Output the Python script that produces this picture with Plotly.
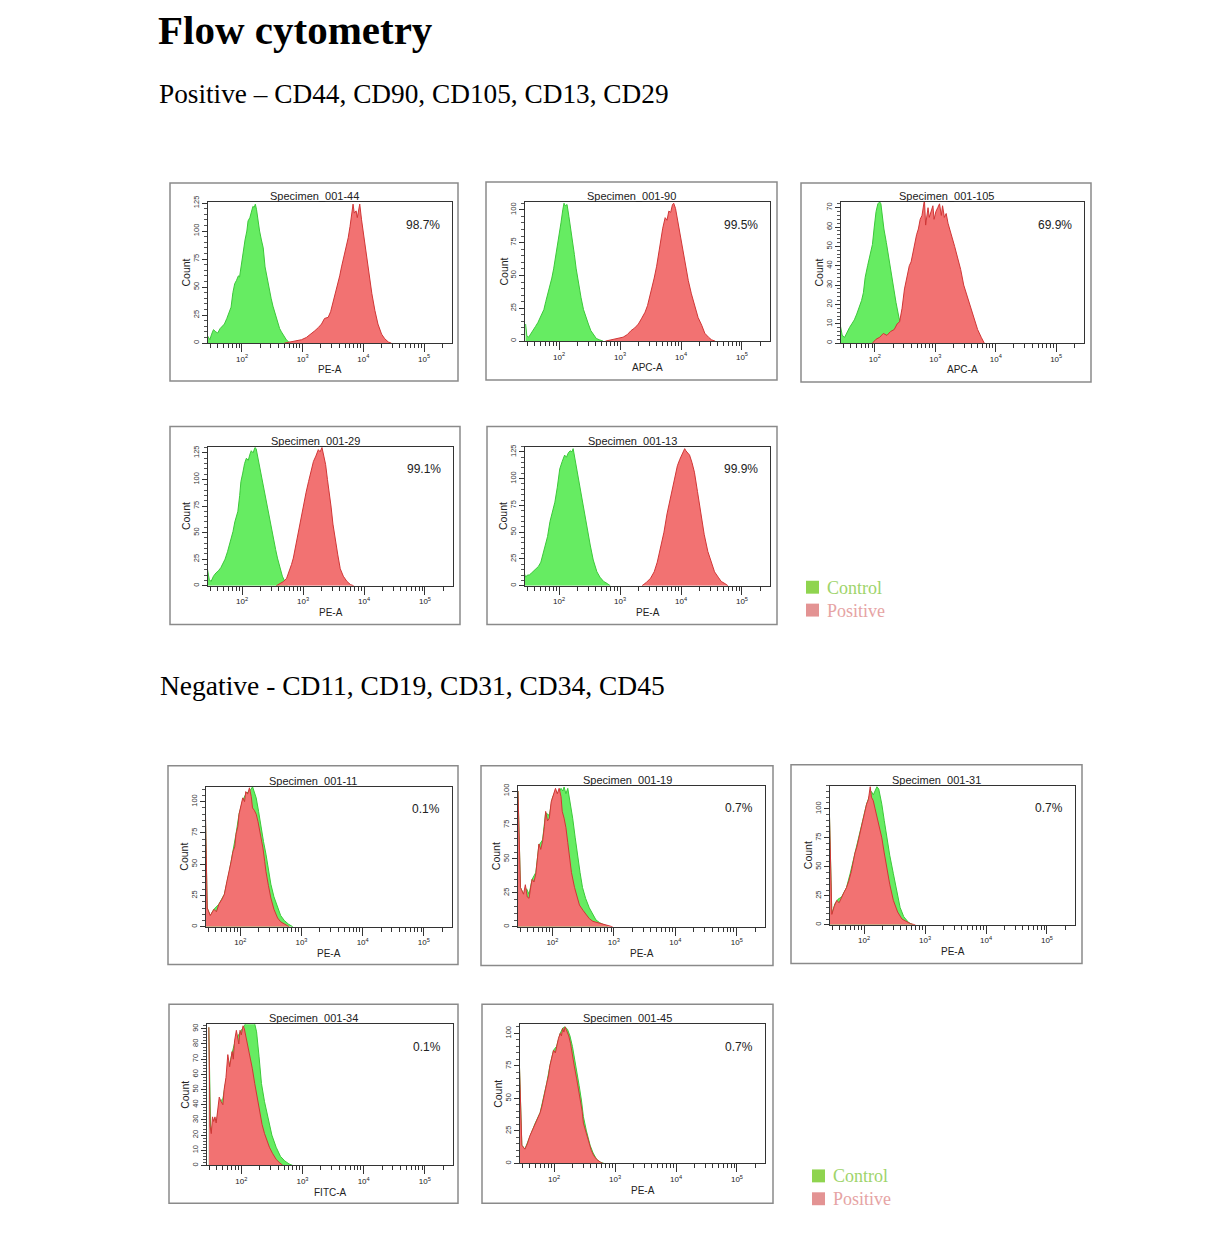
import math
import plotly.graph_objects as go

W, H = 1211, 1246

# ---------------- data (log10 fluorescence intensity, event count) ----------------
CD44_CTRL_LOGX = [1.44,1.47,1.50,1.53,1.57,1.60,1.64,1.68,1.71,1.75,1.79,1.82,1.85,1.88,1.91,1.94,1.96,1.99,2.02,2.05,2.08,2.10,2.13,2.16,2.18,2.20,2.22,2.24,2.26,2.29,2.32,2.35,2.38,2.41,2.44,2.48,2.51,2.54,2.58,2.62,2.65,2.69,2.73,2.77,2.81]
CD44_CTRL_COUNT = [6,3,8,12,10,9,13,15,17,22,28,32,45,53,56,60,59,70,84,92,100,109,112,118,122,121,124,119,110,100,92,85,68,59,52,40,33,27,19,13,10,6,3,1,0]
CD44_POS_LOGX = [2.70,2.80,2.90,2.98,3.06,3.14,3.20,3.26,3.31,3.36,3.42,3.46,3.50,3.53,3.57,3.61,3.64,3.68,3.72,3.75,3.78,3.81,3.83,3.85,3.88,3.90,3.92,3.94,3.97,4.00,4.03,4.06,4.10,4.14,4.19,4.24,4.30,4.35,4.41,4.46]
CD44_POS_COUNT = [0,1,2,3,5,8,11,14,17,22,23,28,36,44,52,60,68,77,86,94,104,114,124,116,118,112,120,124,110,98,88,74,59,44,29,17,8,4,1,0]

CD90_CTRL_LOGX = [1.45,1.47,1.50,1.53,1.57,1.61,1.65,1.69,1.72,1.75,1.78,1.81,1.84,1.88,1.91,1.94,1.97,2.00,2.03,2.06,2.08,2.10,2.13,2.16,2.19,2.22,2.25,2.28,2.32,2.36,2.40,2.44,2.48,2.52,2.56,2.61,2.66,2.72]
CD90_CTRL_COUNT = [13,4,3,5,8,11,14,18,22,24,30,35,40,48,55,63,72,82,90,100,105,103,104,95,86,74,66,55,43,33,24,18,13,8,5,2,1,0]
CD90_POS_LOGX = [2.76,2.85,2.95,3.05,3.12,3.18,3.24,3.30,3.35,3.41,3.45,3.49,3.52,3.56,3.60,3.63,3.67,3.70,3.74,3.77,3.80,3.83,3.86,3.88,3.91,3.94,3.97,4.00,4.04,4.08,4.12,4.17,4.22,4.28,4.34,4.39,4.45,4.50,4.56]
CD90_POS_COUNT = [0,1,2,3,5,8,10,13,17,22,27,34,41,48,57,66,75,86,94,92,99,98,104,105,101,93,86,78,68,58,46,36,27,18,12,6,3,1,0]

CD105_CTRL_LOGX = [1.43,1.46,1.50,1.54,1.58,1.62,1.66,1.70,1.74,1.78,1.81,1.84,1.88,1.92,1.96,1.99,2.02,2.05,2.08,2.10,2.12,2.15,2.19,2.23,2.27,2.31,2.35,2.40,2.45,2.50,2.55,2.60]
CD105_CTRL_COUNT = [9,4,3,6,8,10,12,15,18,22,26,34,40,45,51,60,68,72,73,72,66,59,52,44,36,28,21,13,8,4,2,0]
CD105_POS_LOGX = [1.96,2.02,2.08,2.14,2.20,2.26,2.32,2.37,2.41,2.45,2.49,2.53,2.57,2.60,2.63,2.66,2.69,2.72,2.75,2.78,2.80,2.82,2.84,2.86,2.88,2.90,2.93,2.96,2.98,3.01,3.04,3.07,3.10,3.12,3.15,3.18,3.21,3.24,3.28,3.32,3.37,3.42,3.47,3.53,3.58,3.64,3.70,3.76,3.81]
CD105_POS_COUNT = [0,2,3,5,4,6,7,10,11,18,28,34,40,42,47,50,56,59,64,66,70,74,61,66,70,65,68,71,64,68,70,72,66,71,65,67,62,59,54,50,44,38,30,24,18,12,7,3,0]

CD29_CTRL_LOGX = [1.43,1.46,1.49,1.53,1.57,1.61,1.65,1.68,1.72,1.76,1.80,1.83,1.85,1.88,1.90,1.93,1.96,1.98,2.01,2.04,2.07,2.10,2.13,2.15,2.18,2.21,2.23,2.26,2.29,2.31,2.34,2.37,2.40,2.44,2.48,2.51,2.55,2.58,2.62,2.66,2.70,2.74]
CD29_CTRL_COUNT = [16,6,4,9,12,14,17,20,25,32,40,48,51,60,64,70,85,98,106,115,120,118,124,127,125,130,129,120,110,105,95,86,76,64,54,45,34,26,16,9,4,0]
CD29_POS_LOGX = [2.56,2.62,2.68,2.73,2.77,2.81,2.84,2.88,2.92,2.96,3.01,3.05,3.09,3.13,3.17,3.21,3.25,3.28,3.31,3.34,3.37,3.40,3.43,3.46,3.49,3.53,3.57,3.61,3.66,3.72,3.78,3.83]
CD29_POS_COUNT = [0,2,4,7,13,20,26,38,51,63,76,88,98,108,117,122,128,126,130,122,114,100,88,74,58,42,29,16,9,4,1,0]

CD13_CTRL_LOGX = [1.42,1.45,1.48,1.51,1.55,1.59,1.62,1.66,1.70,1.73,1.77,1.81,1.85,1.89,1.93,1.97,2.01,2.05,2.09,2.12,2.15,2.18,2.21,2.23,2.26,2.29,2.31,2.35,2.40,2.45,2.51,2.56,2.62,2.67,2.73,2.79,2.84]
CD13_CTRL_COUNT = [13,8,10,10,12,14,16,18,22,29,36,46,60,68,78,92,109,116,122,120,124,126,125,128,118,110,103,90,72,55,38,24,13,8,4,2,0]
CD13_POS_LOGX = [3.36,3.43,3.50,3.56,3.61,3.66,3.72,3.77,3.83,3.88,3.94,3.98,4.03,4.06,4.08,4.11,4.14,4.18,4.22,4.27,4.33,4.38,4.44,4.50,4.55,4.61,4.66,4.72,4.77]
CD13_POS_COUNT = [0,3,7,13,22,34,50,67,84,98,112,118,125,128,126,124,122,115,106,88,66,48,32,21,13,8,4,2,0]

CD11_CTRL_LOGX = [1.43,1.46,1.51,1.57,1.65,1.74,1.82,1.88,1.93,1.98,2.04,2.09,2.14,2.18,2.20,2.23,2.26,2.30,2.34,2.38,2.42,2.46,2.50,2.55,2.61,2.66,2.72,2.79,2.86]
CD11_CTRL_COUNT = [90,15,9,14,18,26,44,60,74,90,101,106,108,110,112,108,103,92,79,68,58,46,34,24,15,9,5,2,0]
CD11_POS_LOGX = [1.43,1.46,1.51,1.57,1.61,1.65,1.70,1.74,1.78,1.82,1.85,1.88,1.91,1.93,1.96,1.98,2.01,2.04,2.07,2.09,2.12,2.15,2.18,2.20,2.23,2.26,2.29,2.31,2.34,2.37,2.40,2.42,2.46,2.50,2.55,2.61,2.66,2.72,2.80]
CD11_POS_COUNT = [95,15,9,14,12,18,22,26,36,44,52,60,64,74,80,90,96,103,100,108,106,111,104,95,93,90,84,79,70,63,52,44,33,23,14,7,4,2,0]

CD19_CTRL_LOGX = [1.44,1.48,1.53,1.58,1.62,1.67,1.73,1.78,1.84,1.89,1.95,2.00,2.05,2.10,2.14,2.17,2.19,2.22,2.25,2.29,2.33,2.37,2.41,2.45,2.49,2.54,2.60,2.66,2.71,2.77,2.82,2.90]
CD19_CTRL_COUNT = [100,29,24,28,24,35,40,60,64,84,82,95,100,98,102,100,103,98,102,92,80,66,51,40,29,21,14,9,5,3,2,0]
CD19_POS_LOGX = [1.44,1.48,1.53,1.56,1.59,1.62,1.65,1.67,1.70,1.73,1.76,1.78,1.81,1.84,1.87,1.89,1.92,1.95,1.98,2.00,2.03,2.05,2.08,2.11,2.14,2.16,2.19,2.22,2.25,2.27,2.31,2.36,2.40,2.44,2.50,2.55,2.60,2.66,2.74,2.82,2.90,2.98]
CD19_POS_COUNT = [100,29,24,31,22,21,30,35,33,39,52,61,57,63,74,85,78,80,92,95,99,102,98,102,96,85,80,73,62,53,40,29,22,16,12,9,6,4,3,2,1,0]

CD31_CTRL_LOGX = [1.43,1.47,1.52,1.57,1.63,1.71,1.77,1.82,1.88,1.93,1.98,2.04,2.08,2.12,2.15,2.18,2.21,2.24,2.27,2.29,2.33,2.37,2.42,2.48,2.53,2.59,2.65,2.73,2.80]
CD31_CTRL_COUNT = [98,9,18,22,24,32,44,55,67,80,90,104,110,115,112,116,119,117,110,104,90,75,60,44,30,15,7,2,0]
CD31_POS_LOGX = [1.43,1.47,1.51,1.55,1.59,1.63,1.67,1.71,1.75,1.79,1.82,1.85,1.88,1.92,1.96,2.00,2.04,2.07,2.10,2.12,2.15,2.18,2.21,2.25,2.29,2.33,2.37,2.42,2.48,2.55,2.62,2.69,2.76,2.84]
CD31_POS_COUNT = [98,9,16,21,19,24,28,32,38,46,55,62,67,76,87,96,104,108,119,110,107,100,93,85,75,62,50,35,21,11,5,3,1,0]

CD34_CTRL_LOGX = [1.47,1.50,1.55,1.60,1.65,1.70,1.75,1.80,1.85,1.90,1.95,2.00,2.05,2.09,2.13,2.17,2.21,2.25,2.29,2.33,2.38,2.44,2.50,2.57,2.64,2.71,2.78,2.84]
CD34_CTRL_COUNT = [91,21,30,30,42,44,56,66,74,82,86,89,92,95,96,96,95,88,72,54,42,30,20,12,6,3,1,0]
CD34_POS_LOGX = [1.47,1.49,1.51,1.53,1.55,1.57,1.59,1.62,1.64,1.67,1.70,1.72,1.75,1.78,1.81,1.83,1.85,1.87,1.89,1.92,1.94,1.96,1.98,2.00,2.03,2.05,2.08,2.11,2.14,2.18,2.22,2.26,2.30,2.34,2.38,2.42,2.46,2.51,2.57,2.62,2.68]
CD34_POS_COUNT = [91,26,21,32,29,32,28,38,45,42,40,50,58,73,65,70,75,70,82,89,84,80,89,86,92,90,84,78,73,64,54,44,34,27,21,16,12,8,4,2,0]

CD45_CTRL_LOGX = [1.43,1.47,1.52,1.60,1.69,1.77,1.82,1.88,1.93,1.99,2.04,2.10,2.14,2.18,2.22,2.26,2.30,2.34,2.37,2.41,2.45,2.48,2.53,2.59,2.64,2.70,2.76,2.82]
CD45_CTRL_COUNT = [77,14,11,21,31,39,49,62,75,87,90,100,104,105,103,98,90,80,72,60,48,36,25,14,8,3,1,0]
CD45_POS_LOGX = [1.43,1.47,1.52,1.56,1.60,1.65,1.69,1.73,1.77,1.80,1.82,1.85,1.88,1.91,1.93,1.96,1.99,2.02,2.04,2.07,2.10,2.12,2.14,2.16,2.18,2.21,2.24,2.27,2.29,2.33,2.37,2.40,2.43,2.46,2.48,2.52,2.57,2.61,2.65,2.70,2.76,2.80]
CD45_POS_COUNT = [77,14,11,15,21,26,31,35,39,44,49,55,62,68,75,81,87,85,90,96,100,98,104,101,105,102,98,92,85,75,65,57,49,40,31,24,16,10,6,3,1,0]

SERIES = {
    "CD44": (CD44_CTRL_LOGX, CD44_CTRL_COUNT, CD44_POS_LOGX, CD44_POS_COUNT),
    "CD90": (CD90_CTRL_LOGX, CD90_CTRL_COUNT, CD90_POS_LOGX, CD90_POS_COUNT),
    "CD105": (CD105_CTRL_LOGX, CD105_CTRL_COUNT, CD105_POS_LOGX, CD105_POS_COUNT),
    "CD29": (CD29_CTRL_LOGX, CD29_CTRL_COUNT, CD29_POS_LOGX, CD29_POS_COUNT),
    "CD13": (CD13_CTRL_LOGX, CD13_CTRL_COUNT, CD13_POS_LOGX, CD13_POS_COUNT),
    "CD11": (CD11_CTRL_LOGX, CD11_CTRL_COUNT, CD11_POS_LOGX, CD11_POS_COUNT),
    "CD19": (CD19_CTRL_LOGX, CD19_CTRL_COUNT, CD19_POS_LOGX, CD19_POS_COUNT),
    "CD31": (CD31_CTRL_LOGX, CD31_CTRL_COUNT, CD31_POS_LOGX, CD31_POS_COUNT),
    "CD34": (CD34_CTRL_LOGX, CD34_CTRL_COUNT, CD34_POS_LOGX, CD34_POS_COUNT),
    "CD45": (CD45_CTRL_LOGX, CD45_CTRL_COUNT, CD45_POS_LOGX, CD45_POS_COUNT),
}

MARKERS = ["CD44", "CD90", "CD105", "CD29", "CD13", "CD11", "CD19", "CD31", "CD34", "CD45"]
SPECIMENS = ["Specimen_001-44", "Specimen_001-90", "Specimen_001-105", "Specimen_001-29", "Specimen_001-13",
             "Specimen_001-11", "Specimen_001-19", "Specimen_001-31", "Specimen_001-34", "Specimen_001-45"]
CHANNELS = ["PE-A", "APC-A", "APC-A", "PE-A", "PE-A", "PE-A", "PE-A", "PE-A", "FITC-A", "PE-A"]
PERCENTS = ["98.7%", "99.5%", "69.9%", "99.1%", "99.9%", "0.1%", "0.7%", "0.7%", "0.1%", "0.7%"]
Y_MAX = [126, 106, 73, 131, 130, 112, 104, 120, 93, 107]
Y_TICK_STEP = [25, 25, 10, 25, 25, 25, 25, 25, 10, 25]
Y_TICK_TOP = [125, 100, 70, 125, 125, 100, 100, 100, 90, 100]
X_TICK_EXP = [2, 3, 4, 5]
LEGEND_LABELS = ["Control", "Positive"]
HEADINGS = ["Flow cytometry", "Positive – CD44, CD90, CD105, CD13, CD29",
            "Negative - CD11, CD19, CD31, CD34, CD45"]

# ---------------- layout geometry (pixels) ----------------
INNER = [(208,197,452,339),(525,197,770,337),(841,197,1084,339),
         (208,443,453,583),(525,443,770,583),
         (206,785,452,926),(518,784,765,926),(830,784,1075,924),
         (207,1024,453,1166),(520,1024,765,1164)]
OUTER = [(170,178,458,377),(486,177,777,376),(801,178,1091,378),
         (170,423,460,622),(487,423,777,622),
         (168,764,458,964),(481,764,773,965),(791,763,1082,963),
         (169,1004,458,1204),(482,1004,773,1204)]
X_LOG_RANGE = [1.44, 5.46]

CTRL_FILL, CTRL_LINE = "#66ec62", "#3cc83a"
POS_FILL, POS_LINE = "#f27272", "#d03636"
SANS = "Liberation Sans, Arial, sans-serif"
SERIF = "Liberation Serif, Times New Roman, serif"


def px(x):
    return x / W


def py(y):
    return 1 - y / H


fig = go.Figure()
annotations = []
shapes = []
minor_x = [k * 10 ** n for n in range(1, 6) for k in range(2, 10)
           if X_LOG_RANGE[0] < math.log10(k * 10 ** n) < X_LOG_RANGE[1]]

for i, marker in enumerate(MARKERS):
    n = i + 1
    xa = "x" if n == 1 else f"x{n}"
    ya = "y" if n == 1 else f"y{n}"
    cx, cy, pxs, pys = SERIES[marker]
    fig.add_trace(go.Scatter(x=[10 ** v for v in cx], y=cy, mode="lines", fill="tozeroy",
                             fillcolor=CTRL_FILL, line=dict(color=CTRL_LINE, width=1),
                             xaxis=xa, yaxis=ya, showlegend=False, hoverinfo="skip"))
    fig.add_trace(go.Scatter(x=[10 ** v for v in pxs], y=pys, mode="lines", fill="tozeroy",
                             fillcolor=POS_FILL, line=dict(color=POS_LINE, width=1),
                             xaxis=xa, yaxis=ya, showlegend=False, hoverinfo="skip"))
    l, t, r, b = INNER[i]
    ol, ot, orr, ob = OUTER[i]
    yt = list(range(0, Y_TICK_TOP[i] + 1, Y_TICK_STEP[i]))
    fig.update_layout(**{
        ("xaxis" if n == 1 else f"xaxis{n}"): dict(
            domain=[px(l), px(r)], anchor=ya, type="log", range=X_LOG_RANGE,
            tickmode="array", tickvals=[10 ** e for e in X_TICK_EXP],
            ticktext=[f"10<sup>{e}</sup>" for e in X_TICK_EXP],
            ticks="outside", ticklen=8, tickwidth=1, tickcolor="#333",
            minor=dict(tickmode="array", tickvals=minor_x, ticks="outside", ticklen=4,
                       tickcolor="#333", tickwidth=1, showgrid=False),
            showline=True, linecolor="#333", linewidth=1, mirror=True,
            showgrid=False, zeroline=False,
            tickfont=dict(family=SANS, size=8, color="#222"), fixedrange=True),
        ("yaxis" if n == 1 else f"yaxis{n}"): dict(
            domain=[py(b), py(t)], anchor=xa, range=[0, Y_MAX[i]],
            tickmode="array", tickvals=yt, ticktext=[str(v) for v in yt], tickangle=-90,
            ticks="outside", ticklen=5, tickwidth=1, tickcolor="#333",
            minor=dict(dtick=Y_TICK_STEP[i] / 5, ticks="outside", ticklen=3,
                       tickcolor="#555", tickwidth=1, showgrid=False),
            showline=True, linecolor="#333", linewidth=1, mirror=True,
            showgrid=False, zeroline=False,
            tickfont=dict(family=SANS, size=7.5, color="#333"), fixedrange=True),
    })
    shapes.append(dict(type="rect", xref="paper", yref="paper", x0=px(ol), x1=px(orr),
                       y0=py(ob), y1=py(ot), line=dict(color="#8a8a8a", width=1.5)))
    annotations.append(dict(text=SPECIMENS[i], x=px((ol + orr) / 2), y=py(t - 6), xref="paper", yref="paper",
                            showarrow=False, xanchor="center", yanchor="middle",
                            font=dict(family=SANS, size=11, color="#222")))
    annotations.append(dict(text=PERCENTS[i], x=px(r - 10), y=py(t + 23), xref="paper", yref="paper",
                            showarrow=False, xanchor="right", yanchor="middle",
                            font=dict(family=SANS, size=12, color="#222")))
    annotations.append(dict(text="Count", x=px(l - 22), y=py((t + b) / 2), xref="paper", yref="paper",
                            showarrow=False, xanchor="center", yanchor="middle", textangle=-90,
                            font=dict(family=SANS, size=10.5, color="#222")))
    annotations.append(dict(text=CHANNELS[i], x=px((l + r) / 2), y=py(b + 27), xref="paper", yref="paper",
                            showarrow=False, xanchor="center", yanchor="middle",
                            font=dict(family=SANS, size=10, color="#222")))

# headings
annotations.append(dict(text=f"<b>{HEADINGS[0]}</b>", x=px(156), y=py(24), xref="paper", yref="paper",
                        showarrow=False, xanchor="left", yanchor="middle",
                        font=dict(family=SERIF, size=41, color="#000")))
annotations.append(dict(text=HEADINGS[1], x=px(157), y=py(89), xref="paper", yref="paper",
                        showarrow=False, xanchor="left", yanchor="middle",
                        font=dict(family=SERIF, size=27.3, color="#000")))
annotations.append(dict(text=HEADINGS[2], x=px(158), y=py(683), xref="paper", yref="paper",
                        showarrow=False, xanchor="left", yanchor="middle",
                        font=dict(family=SERIF, size=27.5, color="#000")))

# legends
LEGEND_POS = [(806, 578), (812, 1170)]
LEG_SQ = ["#8fd44f", "#e39393"]
LEG_TXT = ["#9ed46a", "#e6a4a4"]
for lx, ly in LEGEND_POS:
    for j, lab in enumerate(LEGEND_LABELS):
        y0 = ly + j * 23
        shapes.append(dict(type="rect", xref="paper", yref="paper", x0=px(lx), x1=px(lx + 13),
                           y0=py(y0 + 13), y1=py(y0), fillcolor=LEG_SQ[j], line=dict(width=0)))
        annotations.append(dict(text=lab, x=px(lx + 19), y=py(y0 + 7), xref="paper", yref="paper",
                                showarrow=False, xanchor="left", yanchor="middle",
                                font=dict(family=SERIF, size=18, color=LEG_TXT[j])))

fig.update_layout(width=W, height=H, margin=dict(l=0, r=0, t=0, b=0),
                  paper_bgcolor="white", plot_bgcolor="white",
                  annotations=annotations, shapes=shapes, showlegend=False)

fig.write_html("out.html", config={"displayModeBar": False},
               post_script="document.body.style.margin='0px';")
